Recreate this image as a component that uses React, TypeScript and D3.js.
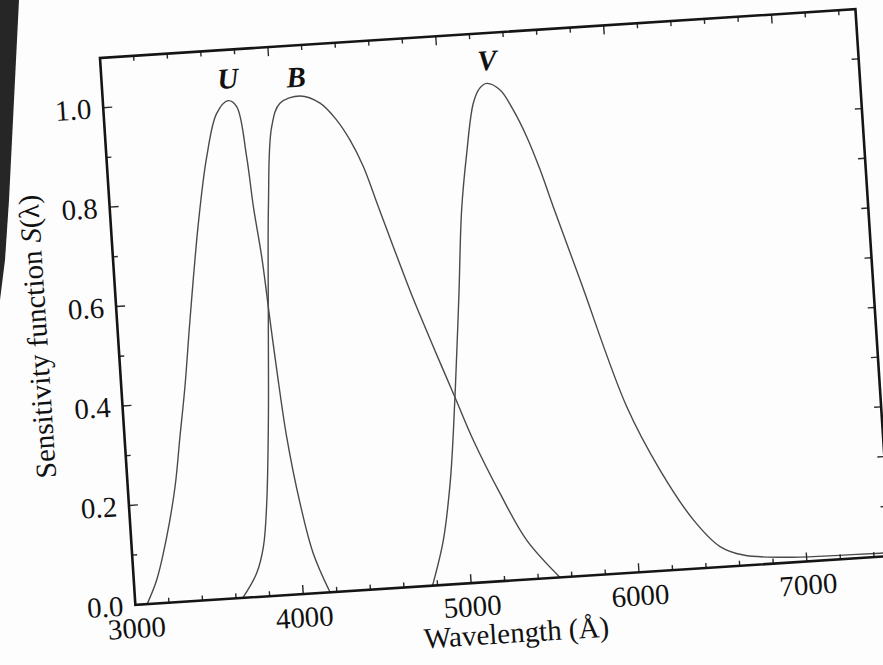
import React from "react";
import * as d3 from "d3";

// ---- data ----
const uWave = [3070, 3136, 3212, 3281, 3329, 3378, 3433, 3520, 3595, 3671, 3744, 3792, 3832, 3853, 3883, 3908, 3929, 3962, 4016, 4075, 4160];
const uSens = [0, 0.047, 0.132, 0.232, 0.331, 0.431, 0.563, 0.756, 0.888, 0.974, 0.998, 0.985, 0.883, 0.782, 0.681, 0.553, 0.452, 0.317, 0.182, 0.08, 0];

const bWave = [3640, 3732, 3782, 3818, 3860, 3898, 3942, 3992, 4050, 4172, 4288, 4380, 4452, 4521, 4586, 4629, 4700, 4766, 4868, 4976, 5068, 5206, 5346, 5530];
const bSens = [0, 0.048, 0.1, 0.186, 0.353, 0.553, 0.78, 0.94, 0.986, 0.998, 0.981, 0.945, 0.903, 0.848, 0.775, 0.727, 0.648, 0.577, 0.477, 0.374, 0.286, 0.176, 0.079, 0];

const vWave = [4770, 4852, 4914, 4952, 5005, 5040, 5087, 5139, 5197, 5240, 5285, 5361, 5432, 5501, 5568, 5632, 5763, 5991, 6164, 6343, 6491, 6626, 6922, 7219, 7437, 7500];
const vSens = [0, 0.09, 0.203, 0.303, 0.469, 0.585, 0.749, 0.862, 0.961, 0.99, 0.999, 0.984, 0.942, 0.887, 0.819, 0.743, 0.593, 0.333, 0.202, 0.098, 0.041, 0.021, 0.01, 0.008, 0.007, 0.007];

const bandNames = ["U", "B", "V"];
const bandLabelX = [3751, 4156, 5295];
const bandLabelY = [1.043, 1.037, 1.046];

const xTickLabels = [3000, 4000, 5000, 6000, 7000];
const yTickLabels = [0.0, 0.2, 0.4, 0.6, 0.8, 1.0];

const xDomain = [3000, 7500];
const yDomain = [0, 1.1];

// ---- layout ----
const W = 883;
const H = 665;
const originX = 100;
const originY = 58;
const angle = -3.7;
const pw = 757;
const ph = 548;
const FONT = "'Liberation Serif', 'Times New Roman', serif";
const FS = 29;

export default function App() {
  const x = d3.scaleLinear().domain(xDomain).range([0, pw]);
  const y = d3.scaleLinear().domain(yDomain).range([ph, 0]);

  const line = d3
    .line<[number, number]>()
    .x((d) => x(d[0]))
    .y((d) => y(d[1]))
    .curve(d3.curveCatmullRom.alpha(0.5));

  const series = [
    d3.zip(uWave, uSens) as [number, number][],
    d3.zip(bWave, bSens) as [number, number][],
    d3.zip(vWave, vSens) as [number, number][],
  ];

  const xMinor = d3.range(3000, 7500 + 1, 200);
  const yMinor = d3.range(0, 1.1 + 1e-9, 0.1);
  const isMajorX = (v: number) => v % 1000 === 0;
  const isMajorY = (v: number) => Math.abs(Math.round(v * 10) % 2) === 0;

  const majorLen = 9;
  const minorLen = 5;
  const tickColor = "#2a2a2a";

  return (
    <svg
      width={W}
      height={H}
      style={{ position: "absolute", left: 0, top: 0, background: "#fdfdfd" }}
    >
      <rect x={0} y={0} width={W} height={H} fill="#fdfdfd" />
      {/* dark photo background strip at the left */}
      <polygon points="0,0 19,0 14,100 9,200 5,260 0,300" fill="#262626" />

      <g transform={`translate(${originX},${originY}) rotate(${angle})`}>
        <defs>
          <clipPath id="plotClip">
            <rect x={0} y={-2} width={pw} height={ph + 2} />
          </clipPath>
        </defs>

        {/* curves */}
        <g clipPath="url(#plotClip)">
          {series.map((s, i) => (
            <path
              key={i}
              d={line(s) || ""}
              fill="none"
              stroke="#4a4a4a"
              strokeWidth={1.4}
            />
          ))}
        </g>

        {/* ticks bottom & top */}
        {xMinor.map((v) => {
          const len = isMajorX(v) ? majorLen : minorLen;
          return (
            <g key={"xt" + v}>
              <line x1={x(v)} x2={x(v)} y1={ph} y2={ph - len} stroke={tickColor} strokeWidth={1.4} />
              <line x1={x(v)} x2={x(v)} y1={0} y2={len} stroke={tickColor} strokeWidth={1.4} />
            </g>
          );
        })}
        {/* ticks left & right */}
        {yMinor.map((v) => {
          const len = isMajorY(v) ? majorLen : minorLen;
          return (
            <g key={"yt" + v.toFixed(1)}>
              <line x1={0} x2={len} y1={y(v)} y2={y(v)} stroke={tickColor} strokeWidth={1.4} />
              <line x1={pw} x2={pw - 7} y1={y(v)} y2={y(v)} stroke={tickColor} strokeWidth={1.4} />
            </g>
          );
        })}

        {/* frame */}
        <rect x={0} y={0} width={pw} height={ph} fill="none" stroke="#151515" strokeWidth={2.6} />

        {/* x tick labels */}
        {xTickLabels.map((v) => (
          <text
            key={"xl" + v}
            x={x(v)}
            y={ph + 23}
            dy="0.35em"
            textAnchor="middle"
            fontFamily={FONT}
            fontSize={FS}
            fill="#111"
          >
            {v}
          </text>
        ))}

        {/* y tick labels */}
        {yTickLabels.map((v) => (
          <text
            key={"yl" + v}
            x={-12}
            y={y(v)}
            dy="0.35em"
            textAnchor="end"
            fontFamily={FONT}
            fontSize={FS}
            fill="#111"
          >
            {v.toFixed(1)}
          </text>
        ))}

        {/* band labels */}
        {bandNames.map((n, i) => (
          <text
            key={n}
            x={x(bandLabelX[i])}
            y={y(bandLabelY[i])}
            dy="0.35em"
            textAnchor="middle"
            fontFamily={FONT}
            fontSize={FS}
            fontStyle="italic"
            fontWeight="bold"
            fill="#111"
          >
            {n}
          </text>
        ))}

        {/* axis titles */}
        <text
          x={pw / 2}
          y={ph + 52}
          dy="0.35em"
          textAnchor="middle"
          fontFamily={FONT}
          fontSize={FS}
          fill="#111"
        >
          Wavelength (Å)
        </text>
        <text
          transform={`translate(-81,${ph / 2}) rotate(-90)`}
          dy="0.35em"
          textAnchor="middle"
          fontFamily={FONT}
          fontSize={FS}
          fill="#111"
        >
          Sensitivity function
          <tspan dx="8" fontStyle="italic">S</tspan>
          <tspan>(λ)</tspan>
        </text>
      </g>
    </svg>
  );
}
